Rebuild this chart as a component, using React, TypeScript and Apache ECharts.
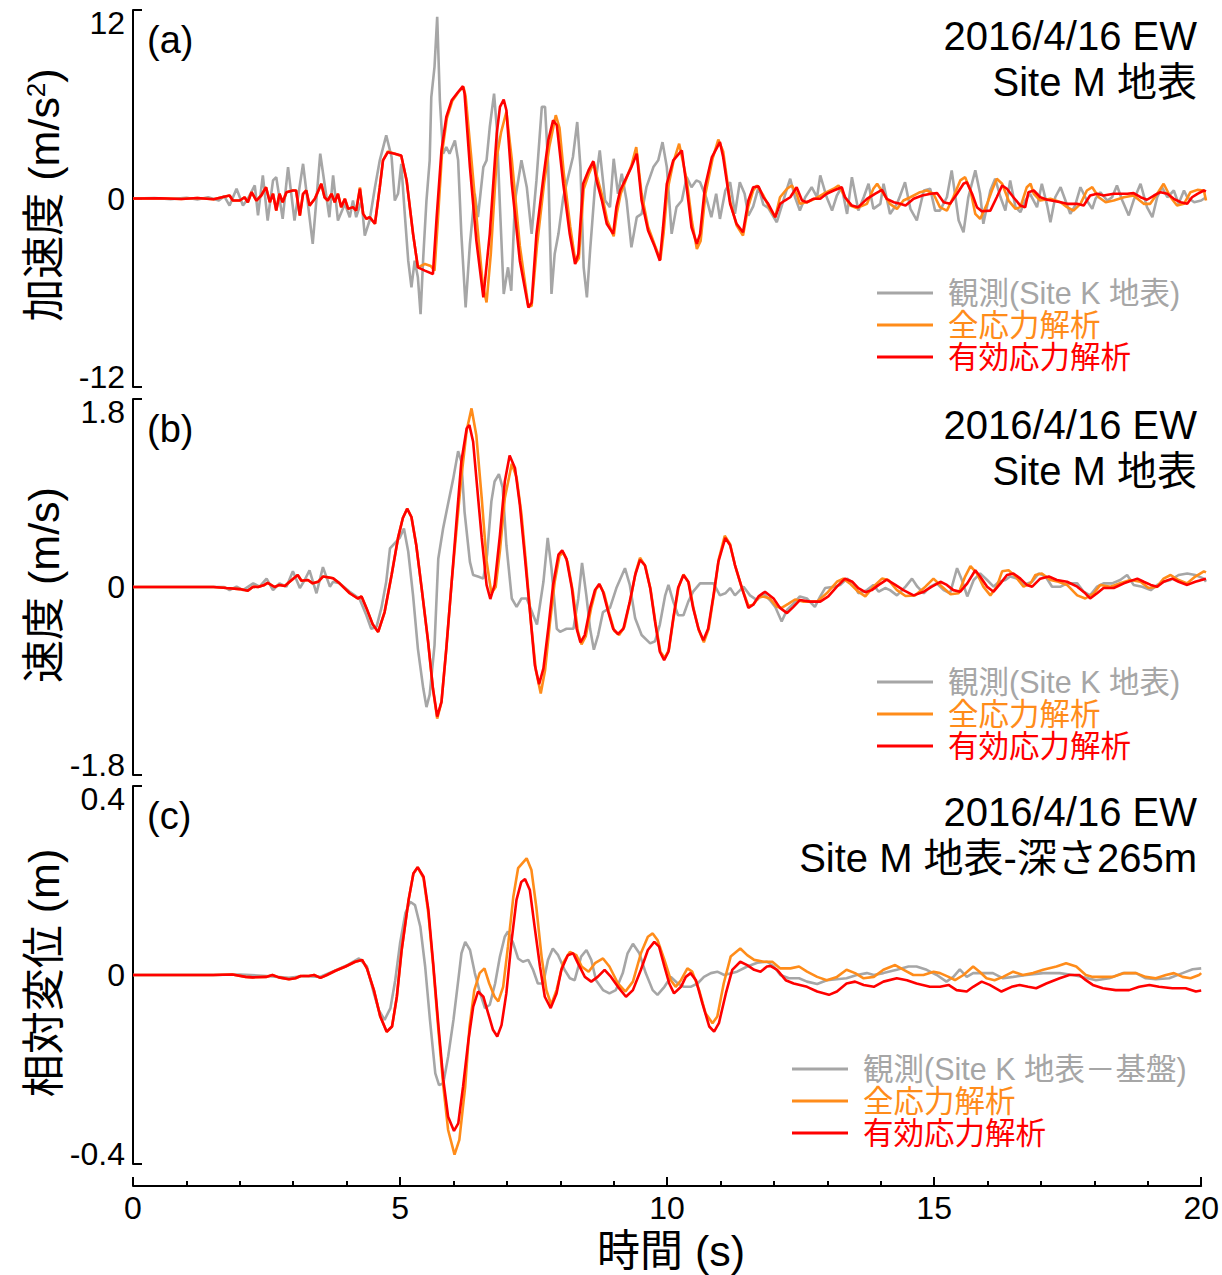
import React, { useEffect, useRef } from 'react';
import * as echarts from 'echarts';

// ---------------- data (time [s], value) ----------------
const ACC_OBS = [[0,0],[0.4,0.03],[0.7,-0.04],[1.0,0.05],[1.2,-0.06],[1.4,0.08],[1.6,-0.12],[1.7,0.15],[1.8,-0.45],[1.93,0.62],[2.05,-0.45],[2.14,-0.02],[2.27,0.83],[2.33,-1.08],[2.42,1.47],[2.51,-1.4],[2.61,1.15],[2.67,1.36],[2.79,-1.3],[2.89,2.0],[3.01,-1.4],[3.17,2.21],[3.35,-2.89],[3.49,2.85],[3.66,-1.19],[3.73,1.47],[3.82,-1.4],[3.95,-0.34],[4.04,-1.19],[4.1,-0.13],[4.16,-1.19],[4.26,-0.13],[4.32,-2.36],[4.41,-1.4],[4.51,0.72],[4.6,2.43],[4.72,4.02],[4.82,2.64],[4.88,-0.13],[4.94,0.3],[5.0,2.21],[5.07,-1.19],[5.13,-3.96],[5.19,-5.66],[5.25,-3.96],[5.31,-5.02],[5.36,-7.36],[5.41,-3.75],[5.47,-0.13],[5.53,2.43],[5.56,6.46],[5.62,8.38],[5.67,11.57],[5.72,6.25],[5.78,2.85],[5.84,3.27],[5.9,2.85],[6.0,3.7],[6.06,2.43],[6.12,-2.25],[6.2,-6.94],[6.28,-2.89],[6.37,0.3],[6.43,-1.19],[6.53,2.0],[6.59,2.43],[6.65,4.55],[6.73,6.68],[6.78,4.55],[6.84,-0.55],[6.91,-6.08],[6.99,-4.38],[7.05,-5.87],[7.12,-0.13],[7.18,1.15],[7.24,2.43],[7.34,0.72],[7.43,-2.25],[7.52,1.15],[7.62,5.83],[7.68,5.83],[7.74,2.0],[7.8,-6.08],[7.86,-3.53],[7.93,-2.25],[8.02,0.08],[8.11,1.36],[8.2,2.64],[8.28,4.87],[8.34,2.0],[8.4,-4.38],[8.46,-6.3],[8.52,-3.32],[8.61,0.72],[8.7,3.06],[8.8,-0.13],[8.89,-0.55],[8.96,2.53],[9.04,0.3],[9.11,1.58],[9.2,-0.13],[9.29,-3.11],[9.39,-1.19],[9.48,-0.98],[9.57,0.72],[9.7,2.0],[9.79,2.43],[9.87,3.59],[9.95,2.0],[10.04,-2.25],[10.13,-0.55],[10.23,-0.13],[10.32,1.36],[10.41,0.72],[10.5,1.15],[10.57,1.04],[10.69,0.0],[10.78,-1.19],[10.87,0.3],[10.94,-1.3],[11.04,0.5],[11.13,1.04],[11.22,-0.98],[11.31,1.04],[11.4,0.3],[11.47,-1.1],[11.56,-0.5],[11.66,0.72],[11.75,-0.4],[11.84,-0.6],[12.0,-1.51],[12.15,0.19],[12.25,1.26],[12.34,0.08],[12.43,-0.77],[12.53,0.08],[12.65,0.72],[12.75,0.08],[12.81,1.47],[12.93,0.08],[13.03,-0.77],[13.12,0.19],[13.21,0.72],[13.31,-0.98],[13.4,1.36],[13.52,-0.77],[13.62,0.08],[13.71,0.94],[13.8,-0.66],[13.93,-0.34],[13.99,0.94],[14.11,-0.98],[14.24,-0.34],[14.3,0.19],[14.39,1.04],[14.49,-0.66],[14.61,-1.4],[14.74,0.51],[14.86,0.62],[14.95,-0.77],[15.04,-0.77],[15.17,0.08],[15.26,1.79],[15.39,-1.4],[15.48,-2.15],[15.57,0.08],[15.7,1.79],[15.79,0.3],[15.85,-1.61],[15.98,0.51],[16.07,1.26],[16.17,0.08],[16.26,-0.77],[16.35,1.15],[16.45,-0.55],[16.54,-0.87],[16.63,-0.13],[16.72,0.3],[16.85,-0.55],[16.94,0.94],[17.04,-0.45],[17.1,-1.51],[17.19,0.08],[17.29,0.72],[17.38,-0.13],[17.47,-0.98],[17.56,-0.45],[17.66,0.72],[17.78,-0.13],[17.88,-0.66],[17.94,-0.02],[18.03,0.4],[18.16,-0.13],[18.25,0.08],[18.34,0.83],[18.44,-0.13],[18.56,-1.08],[18.65,-0.13],[18.78,0.94],[18.9,-0.55],[19.0,-1.19],[19.09,0.08],[19.18,0.72],[19.28,0.08],[19.4,0.51],[19.49,-0.34],[19.59,0.51],[19.65,0.08],[19.78,-0.24],[19.91,-0.13],[20,0.08]];

const ACC_TOT = [[0,0],[0.5,0.02],[0.9,-0.03],[1.2,0.03],[1.5,-0.05],[1.8,0.19],[1.86,-0.13],[1.99,-0.13],[2.08,0.08],[2.14,-0.24],[2.21,0.4],[2.3,-0.13],[2.39,0.19],[2.48,0.72],[2.55,-0.24],[2.61,0.3],[2.67,-0.77],[2.73,0.3],[2.79,-0.24],[2.86,0.4],[2.98,0.51],[3.04,0.51],[3.11,-1.08],[3.17,0.3],[3.23,0.51],[3.29,-0.45],[3.39,-0.02],[3.51,0.94],[3.57,0.08],[3.63,-0.13],[3.7,0.3],[3.76,-0.24],[3.82,0.3],[3.88,-0.55],[3.95,-0.02],[4.01,-0.66],[4.1,-0.55],[4.16,-0.77],[4.23,0.7],[4.29,-0.98],[4.35,-1.3],[4.41,-1.19],[4.51,-1.61],[4.6,0.72],[4.66,2.43],[4.75,3.0],[4.88,2.85],[5.0,2.7],[5.1,1.15],[5.22,-2.25],[5.31,-4.38],[5.44,-4.17],[5.55,-4.3],[5.62,-4.6],[5.68,-1.5],[5.76,2.9],[5.85,5.1],[5.95,6.2],[6.07,6.8],[6.16,7.1],[6.2,6.5],[6.3,2.8],[6.42,-1.8],[6.52,-5.5],[6.59,-6.62],[6.67,-3.5],[6.78,2.6],[6.86,4.2],[6.96,5.51],[7.06,2.5],[7.21,-3.0],[7.37,-6.9],[7.43,-6.83],[7.53,-3.0],[7.66,0.9],[7.76,3.3],[7.88,5.3],[7.95,4.5],[8.03,1.6],[8.15,-1.8],[8.25,-4.1],[8.31,-3.8],[8.4,0.6],[8.5,1.6],[8.59,2.3],[8.65,1.4],[8.75,0.1],[8.84,-1.4],[8.96,-2.4],[9.02,-0.9],[9.09,0.3],[9.2,1.3],[9.29,2.1],[9.38,3.27],[9.48,0.3],[9.6,-1.8],[9.73,-3.0],[9.83,-3.9],[9.89,-2.2],[9.96,0.5],[10.07,2.3],[10.18,3.49],[10.32,1.2],[10.42,-1.5],[10.51,-3.21],[10.58,-2.7],[10.67,0.3],[10.8,2.5],[10.91,3.75],[11.0,3.0],[11.13,-0.2],[11.25,-1.7],[11.37,-2.36],[11.47,-0.5],[11.56,0.51],[11.63,0.83],[11.75,0.19],[11.87,-0.66],[11.97,-1.19],[12.06,0.08],[12.19,0.62],[12.28,0.83],[12.37,0.3],[12.43,-0.34],[12.56,-0.24],[12.71,-0.02],[12.87,0.3],[13.06,0.62],[13.15,0.83],[13.24,0.3],[13.37,-0.45],[13.49,-0.6],[13.68,-0.34],[13.8,0.62],[13.87,0.94],[13.99,0.3],[14.11,-0.34],[14.24,-0.66],[14.36,-0.13],[14.49,0.08],[14.67,0.4],[14.8,0.51],[14.92,0.3],[15.04,-0.55],[15.17,-0.77],[15.29,0.08],[15.42,1.15],[15.51,1.36],[15.61,0.51],[15.7,-0.98],[15.79,-1.3],[15.92,-0.34],[16.01,0.51],[16.1,1.26],[16.2,0.94],[16.32,-0.13],[16.45,-0.66],[16.54,-0.55],[16.66,0.72],[16.73,0.94],[16.79,0.3],[16.91,-0.13],[17.1,-0.02],[17.29,-0.24],[17.41,-0.55],[17.53,-0.77],[17.66,-0.34],[17.78,0.51],[17.88,0.72],[18.0,0.08],[18.13,-0.24],[18.28,-0.13],[18.47,0.08],[18.65,0.19],[18.84,-0.34],[18.96,-0.34],[19.09,0.3],[19.21,0.94],[19.34,0.08],[19.46,-0.45],[19.59,-0.34],[19.71,0.4],[19.84,0.55],[19.96,0.51],[20,-0.13]];

const ACC_EFF = [[0,0],[0.5,0.02],[0.9,-0.03],[1.2,0.03],[1.5,-0.05],[1.8,0.19],[1.86,-0.13],[1.99,-0.13],[2.08,0.08],[2.14,-0.24],[2.21,0.4],[2.3,-0.13],[2.39,0.19],[2.48,0.72],[2.55,-0.24],[2.61,0.3],[2.67,-0.77],[2.73,0.3],[2.79,-0.24],[2.86,0.4],[2.98,0.51],[3.04,0.51],[3.11,-1.08],[3.17,0.3],[3.23,0.51],[3.29,-0.45],[3.39,-0.02],[3.51,0.94],[3.57,0.08],[3.63,-0.13],[3.7,0.3],[3.76,-0.24],[3.82,0.3],[3.88,-0.55],[3.95,-0.02],[4.01,-0.66],[4.1,-0.55],[4.16,-0.77],[4.23,0.62],[4.29,-0.98],[4.35,-1.3],[4.41,-1.19],[4.51,-1.61],[4.6,0.72],[4.66,2.43],[4.75,2.95],[4.88,2.85],[5.0,2.74],[5.1,1.15],[5.22,-2.25],[5.31,-4.38],[5.44,-4.59],[5.59,-4.81],[5.66,-1.19],[5.75,3.06],[5.84,5.19],[5.94,6.25],[6.06,6.78],[6.15,7.15],[6.18,6.68],[6.28,2.0],[6.4,-2.68],[6.53,-6.3],[6.65,-2.25],[6.78,4.13],[6.84,5.83],[6.91,6.3],[6.96,5.62],[7.06,0.94],[7.21,-3.96],[7.37,-6.94],[7.43,-6.62],[7.52,-2.25],[7.65,1.36],[7.74,3.7],[7.83,4.98],[7.9,4.66],[8.02,0.94],[8.14,-2.25],[8.24,-4.17],[8.3,-3.53],[8.39,0.94],[8.49,1.79],[8.58,2.38],[8.64,1.15],[8.74,-0.13],[8.83,-1.61],[8.95,-2.25],[9.01,-0.55],[9.08,0.51],[9.2,1.36],[9.29,2.0],[9.39,2.85],[9.48,-0.13],[9.6,-2.04],[9.73,-3.11],[9.82,-3.96],[9.88,-1.83],[9.95,0.94],[10.07,2.43],[10.23,3.06],[10.32,0.72],[10.41,-1.83],[10.51,-2.89],[10.57,-2.25],[10.66,0.72],[10.79,2.64],[10.94,3.59],[11.0,2.64],[11.13,-0.34],[11.25,-1.61],[11.37,-2.15],[11.47,-0.13],[11.56,0.72],[11.66,0.77],[11.75,0.08],[11.84,-0.34],[11.97,-1.19],[12.06,-0.34],[12.15,-0.13],[12.25,0.08],[12.37,0.72],[12.47,-0.13],[12.56,-0.24],[12.68,-0.02],[12.81,-0.02],[12.93,0.3],[13.06,0.51],[13.21,0.72],[13.27,0.08],[13.4,-0.45],[13.52,-0.55],[13.68,-0.02],[13.83,0.3],[13.96,0.55],[14.05,-0.02],[14.18,-0.24],[14.3,-0.34],[14.4,-0.45],[14.55,-0.02],[14.71,0.19],[14.87,0.3],[14.99,0.34],[15.11,-0.24],[15.23,-0.34],[15.36,0.3],[15.48,0.94],[15.54,1.04],[15.64,0.3],[15.73,-0.55],[15.82,-0.81],[15.98,-0.77],[16.1,0.08],[16.2,0.83],[16.29,0.62],[16.41,0.08],[16.54,-0.45],[16.63,-0.55],[16.69,0.4],[16.79,0.51],[16.91,0.08],[17.04,-0.08],[17.29,-0.24],[17.41,-0.34],[17.6,-0.34],[17.72,-0.45],[17.84,0.19],[17.97,0.3],[18.09,0.19],[18.28,0.3],[18.53,0.3],[18.65,0.34],[18.78,0.08],[18.9,-0.08],[19.03,0.19],[19.15,0.4],[19.28,0.3],[19.4,-0.02],[19.53,-0.24],[19.65,-0.34],[19.74,0.08],[19.84,0.3],[19.96,0.51],[20,0.45]];

const VEL_OBS = [[0,0],[1.7,0],[1.8,-0.03],[1.93,0.003],[2.05,-0.03],[2.24,0.035],[2.36,0.003],[2.49,0.08],[2.61,-0.03],[2.73,0.035],[2.86,0.003],[2.98,0.15],[3.11,-0.01],[3.2,0.067],[3.29,0.16],[3.42,-0.06],[3.54,0.19],[3.67,0.003],[3.73,0.05],[3.85,0.035],[4.04,-0.045],[4.22,-0.11],[4.35,-0.27],[4.44,-0.4],[4.54,-0.38],[4.63,-0.2],[4.72,0.05],[4.79,0.37],[4.88,0.42],[4.97,0.47],[5.05,0.56],[5.13,0.34],[5.22,-0.08],[5.31,-0.59],[5.41,-0.97],[5.47,-1.15],[5.53,-1.03],[5.62,-0.56],[5.69,0.27],[5.78,0.56],[5.87,0.79],[5.97,1.04],[6.06,1.3],[6.12,1.2],[6.18,0.72],[6.28,0.24],[6.34,0.115],[6.43,0.1],[6.53,0.08],[6.6,0.31],[6.68,0.82],[6.74,1.01],[6.82,1.08],[6.89,0.95],[6.96,0.4],[7.06,-0.11],[7.15,-0.19],[7.24,-0.11],[7.34,-0.11],[7.46,-0.27],[7.53,-0.36],[7.65,0.05],[7.73,0.47],[7.8,0.18],[7.9,-0.4],[7.96,-0.43],[8.08,-0.4],[8.21,-0.4],[8.3,-0.11],[8.37,0.23],[8.45,-0.08],[8.52,-0.4],[8.59,-0.6],[8.67,-0.46],[8.76,-0.24],[8.89,-0.2],[9.01,-0.01],[9.17,0.18],[9.26,0.02],[9.36,-0.3],[9.48,-0.46],[9.64,-0.54],[9.73,-0.52],[9.82,-0.36],[9.92,-0.08],[9.98,0.02],[10.07,-0.14],[10.16,-0.27],[10.26,-0.27],[10.35,-0.14],[10.44,-0.045],[10.57,0.035],[10.82,0.035],[10.94,-0.08],[11.04,-0.06],[11.13,-0.01],[11.22,-0.08],[11.38,0.003],[11.5,-0.08],[11.63,-0.125],[11.75,-0.06],[11.87,-0.125],[11.97,-0.19],[12.09,-0.33],[12.19,-0.22],[12.31,-0.16],[12.43,-0.09],[12.56,-0.11],[12.71,-0.19],[12.81,-0.09],[12.9,-0.01],[13.06,0.003],[13.18,0.02],[13.31,0.08],[13.43,0.035],[13.52,-0.06],[13.68,-0.03],[13.8,0.02],[13.9,-0.045],[14.02,-0.01],[14.11,-0.03],[14.24,-0.08],[14.4,0.003],[14.52,0.08],[14.62,0.003],[14.74,-0.06],[14.86,0.003],[14.98,0.035],[15.11,-0.03],[15.23,-0.06],[15.36,0.18],[15.45,0.067],[15.55,-0.09],[15.67,0.067],[15.79,0.13],[15.92,0.067],[16.04,0.003],[16.14,0.05],[16.26,0.067],[16.35,0.1],[16.49,0.08],[16.6,0.02],[16.76,0.05],[16.88,0.13],[17.01,0.1],[17.13,0.003],[17.29,0.003],[17.41,0.035],[17.6,0.035],[17.72,-0.045],[17.84,-0.08],[17.97,0.003],[18.09,0.035],[18.25,0.035],[18.4,0.067],[18.53,0.115],[18.65,0.02],[18.81,0.003],[18.97,-0.03],[19.09,0.02],[19.21,0.05],[19.34,0.067],[19.49,0.115],[19.65,0.13],[19.8,0.115],[19.96,0.08],[20,0.05]];

const VEL_TOT = [[0,0],[1.5,0],[1.74,-0.01],[1.99,-0.02],[2.14,-0.035],[2.24,0.003],[2.33,0.0],[2.45,0.02],[2.51,0.04],[2.64,0.0],[2.73,0.02],[2.83,0.01],[2.92,0.05],[3.07,0.115],[3.14,0.06],[3.26,0.067],[3.35,0.035],[3.45,0.05],[3.54,0.1],[3.63,0.093],[3.73,0.083],[3.85,0.035],[4.04,-0.06],[4.19,-0.11],[4.26,-0.09],[4.35,-0.2],[4.47,-0.36],[4.57,-0.43],[4.69,-0.24],[4.82,0.115],[4.94,0.47],[5.03,0.66],[5.11,0.75],[5.19,0.67],[5.28,0.4],[5.38,-0.01],[5.5,-0.52],[5.59,-0.97],[5.67,-1.26],[5.75,-1.1],[5.84,-0.59],[5.94,0.05],[6.03,0.55],[6.12,1.05],[6.22,1.5],[6.31,1.71],[6.4,1.45],[6.5,0.85],[6.59,0.25],[6.68,-0.06],[6.76,0.0],[6.84,0.35],[6.93,0.85],[7.06,1.18],[7.15,1.05],[7.24,0.7],[7.33,0.2],[7.42,-0.35],[7.51,-0.8],[7.6,-1.02],[7.68,-0.8],[7.77,-0.35],[7.86,0.05],[7.95,0.3],[8.02,0.33],[8.1,0.24],[8.2,-0.05],[8.29,-0.42],[8.36,-0.55],[8.44,-0.47],[8.54,-0.2],[8.63,-0.02],[8.7,0.02],[8.78,-0.06],[8.88,-0.26],[8.97,-0.42],[9.06,-0.46],[9.16,-0.38],[9.28,-0.1],[9.37,0.14],[9.45,0.28],[9.55,0.2],[9.65,-0.03],[9.74,-0.35],[9.83,-0.62],[9.91,-0.68],[9.99,-0.6],[10.08,-0.28],[10.17,0.0],[10.26,0.12],[10.36,0.04],[10.45,-0.21],[10.55,-0.42],[10.64,-0.53],[10.73,-0.4],[10.83,-0.06],[10.92,0.27],[11.03,0.49],[11.13,0.41],[11.22,0.21],[11.35,-0.01],[11.47,-0.18],[11.56,-0.17],[11.66,-0.1],[11.75,-0.09],[11.87,-0.11],[12.0,-0.19],[12.09,-0.2],[12.22,-0.16],[12.34,-0.12],[12.5,-0.14],[12.75,-0.14],[12.93,-0.06],[13.12,0.05],[13.24,0.08],[13.36,0.035],[13.52,-0.045],[13.65,-0.09],[13.8,0.003],[13.96,0.08],[14.08,0.067],[14.24,-0.03],[14.4,-0.086],[14.58,-0.08],[14.77,0.003],[14.92,0.08],[15.08,0.003],[15.24,-0.07],[15.39,-0.06],[15.51,0.1],[15.61,0.2],[15.73,0.13],[15.85,0.003],[15.98,-0.08],[16.1,0.003],[16.2,0.15],[16.32,0.16],[16.45,0.1],[16.6,0.003],[16.73,0.035],[16.82,0.115],[16.94,0.13],[17.1,0.067],[17.25,0.05],[17.41,0.02],[17.6,-0.08],[17.75,-0.11],[17.91,-0.06],[18.03,0.02],[18.22,0.003],[18.4,0.035],[18.59,0.067],[18.78,0.05],[18.93,-0.01],[19.09,0.003],[19.21,0.08],[19.34,0.115],[19.49,0.067],[19.65,0.035],[19.8,0.1],[19.96,0.15],[20,0.14]];

const VEL_EFF = [[0,0],[1.5,0],[1.74,-0.01],[1.99,-0.02],[2.14,-0.035],[2.24,0.003],[2.33,0.0],[2.45,0.02],[2.51,0.04],[2.64,0.0],[2.73,0.02],[2.83,0.01],[2.92,0.05],[3.07,0.115],[3.14,0.06],[3.26,0.067],[3.35,0.035],[3.45,0.05],[3.54,0.1],[3.63,0.093],[3.73,0.083],[3.85,0.035],[4.04,-0.06],[4.19,-0.11],[4.26,-0.09],[4.35,-0.2],[4.47,-0.36],[4.57,-0.43],[4.69,-0.24],[4.82,0.115],[4.94,0.47],[5.03,0.66],[5.11,0.75],[5.19,0.67],[5.28,0.4],[5.38,-0.01],[5.5,-0.52],[5.59,-0.97],[5.67,-1.24],[5.75,-1.1],[5.84,-0.59],[5.94,0.05],[6.03,0.63],[6.12,1.2],[6.22,1.52],[6.27,1.55],[6.34,1.39],[6.4,1.04],[6.5,0.47],[6.59,0.02],[6.66,-0.115],[6.74,0.02],[6.84,0.5],[6.93,1.01],[7.02,1.26],[7.12,1.14],[7.21,0.79],[7.3,0.31],[7.4,-0.24],[7.49,-0.75],[7.57,-0.93],[7.65,-0.78],[7.74,-0.4],[7.83,0.02],[7.93,0.31],[8.0,0.35],[8.08,0.27],[8.18,-0.01],[8.27,-0.4],[8.34,-0.53],[8.42,-0.46],[8.52,-0.2],[8.61,-0.03],[8.69,0.03],[8.76,-0.045],[8.86,-0.24],[8.95,-0.4],[9.04,-0.45],[9.14,-0.4],[9.26,-0.14],[9.36,0.115],[9.45,0.26],[9.54,0.21],[9.64,-0.01],[9.73,-0.33],[9.82,-0.62],[9.9,-0.7],[9.98,-0.62],[10.07,-0.3],[10.16,-0.01],[10.26,0.115],[10.35,0.05],[10.44,-0.2],[10.54,-0.4],[10.63,-0.51],[10.72,-0.4],[10.82,-0.08],[10.91,0.24],[11.04,0.47],[11.13,0.4],[11.22,0.21],[11.35,-0.01],[11.47,-0.2],[11.56,-0.17],[11.66,-0.09],[11.78,-0.045],[11.94,-0.11],[12.06,-0.2],[12.19,-0.25],[12.31,-0.19],[12.43,-0.125],[12.62,-0.14],[12.81,-0.14],[12.96,-0.09],[13.12,0.003],[13.27,0.08],[13.41,0.05],[13.52,-0.01],[13.65,-0.05],[13.77,-0.03],[13.9,0.02],[14.05,0.07],[14.21,0.02],[14.36,-0.03],[14.55,-0.08],[14.74,-0.045],[14.89,0.003],[15.05,0.05],[15.17,0.02],[15.29,-0.03],[15.42,-0.045],[15.55,0.035],[15.7,0.16],[15.79,0.1],[15.92,0.003],[16.04,-0.045],[16.17,0.035],[16.29,0.115],[16.41,0.13],[16.54,0.08],[16.66,0.02],[16.76,0.003],[16.91,0.08],[17.07,0.1],[17.22,0.067],[17.41,0.05],[17.6,0.003],[17.75,-0.06],[17.84,-0.11],[17.97,-0.06],[18.09,-0.01],[18.28,-0.01],[18.47,0.035],[18.72,0.08],[18.84,0.05],[18.97,0.02],[19.09,0.003],[19.21,0.05],[19.37,0.08],[19.49,0.05],[19.65,0.02],[19.8,0.05],[20,0.08]];

const DISP_OBS = [[0,0],[1.5,0],[2.0,0.001],[2.5,-0.002],[2.92,-0.006],[3.2,-0.002],[3.5,-0.004],[3.8,0.01],[4.0,0.02],[4.23,0.035],[4.38,0.018],[4.51,-0.039],[4.6,-0.074],[4.71,-0.095],[4.82,-0.07],[4.91,-0.011],[5.0,0.067],[5.1,0.131],[5.19,0.155],[5.28,0.148],[5.38,0.102],[5.47,0.018],[5.56,-0.095],[5.66,-0.208],[5.73,-0.233],[5.81,-0.229],[5.9,-0.173],[6.0,-0.095],[6.09,-0.011],[6.15,0.046],[6.22,0.07],[6.31,0.053],[6.4,0.004],[6.5,-0.039],[6.59,-0.07],[6.68,-0.063],[6.78,-0.018],[6.87,0.039],[6.96,0.081],[7.02,0.092],[7.12,0.067],[7.21,0.035],[7.3,0.028],[7.4,0.032],[7.49,0.011],[7.58,-0.018],[7.68,-0.018],[7.77,0.032],[7.86,0.056],[7.96,0.042],[8.08,0.011],[8.18,-0.007],[8.27,-0.011],[8.39,0.039],[8.49,0.053],[8.58,0.032],[8.67,-0.011],[8.8,-0.032],[8.92,-0.039],[9.04,-0.032],[9.17,0.004],[9.26,0.046],[9.36,0.066],[9.48,0.046],[9.6,0.004],[9.73,-0.032],[9.82,-0.042],[9.95,-0.025],[10.07,-0.004],[10.2,-0.018],[10.32,-0.025],[10.44,-0.025],[10.57,-0.018],[10.69,-0.004],[10.82,0.004],[10.94,0.007],[11.07,0],[11.31,0.007],[11.5,0.018],[11.69,0.026],[11.87,0.028],[12.0,0.018],[12.12,0],[12.28,-0.007],[12.47,-0.007],[12.62,-0.014],[12.81,-0.019],[12.99,-0.011],[13.36,-0.007],[13.55,0],[13.74,0.004],[13.87,0],[14.05,0.004],[14.3,0.011],[14.52,0.018],[14.67,0.018],[14.86,0.011],[15.05,0],[15.23,-0.014],[15.36,-0.004],[15.48,0.012],[15.61,-0.004],[15.73,0.004],[16.1,0.004],[16.29,-0.007],[16.48,-0.004],[16.73,0],[17.04,0.004],[17.35,0.004],[17.6,0],[17.78,-0.004],[18.03,-0.011],[18.28,-0.007],[18.53,0.004],[18.78,0.004],[18.96,-0.007],[19.15,-0.009],[19.4,-0.007],[19.65,0.004],[19.84,0.012],[20,0.014]];

const DISP_TOT = [[0,0],[1.5,0],[1.86,0.001],[2.11,-0.004],[2.24,-0.005],[2.49,-0.004],[2.61,0],[2.73,-0.005],[2.92,-0.009],[3.04,-0.007],[3.14,-0.002],[3.29,-0.002],[3.39,0],[3.51,-0.006],[3.63,0],[3.79,0.009],[3.98,0.018],[4.16,0.028],[4.29,0.032],[4.38,0.014],[4.51,-0.032],[4.63,-0.088],[4.75,-0.12],[4.85,-0.109],[4.94,-0.046],[5.03,0.053],[5.16,0.159],[5.25,0.215],[5.33,0.228],[5.44,0.205],[5.53,0.13],[5.62,0.02],[5.72,-0.12],[5.81,-0.235],[5.9,-0.328],[6.02,-0.38],[6.11,-0.349],[6.22,-0.236],[6.3,-0.11],[6.39,-0.032],[6.49,0.004],[6.58,0.014],[6.67,-0.018],[6.77,-0.046],[6.84,-0.056],[6.93,-0.025],[7.02,0.06],[7.12,0.165],[7.21,0.226],[7.37,0.247],[7.46,0.222],[7.55,0.145],[7.65,0.039],[7.74,-0.032],[7.83,-0.063],[7.93,-0.032],[8.05,0.025],[8.18,0.049],[8.3,0.042],[8.4,0.018],[8.53,0.007],[8.65,0.025],[8.8,0.035],[8.92,0.018],[9.08,-0.018],[9.22,-0.035],[9.36,-0.014],[9.51,0.046],[9.64,0.081],[9.73,0.088],[9.82,0.074],[9.95,0.032],[10.07,-0.011],[10.16,-0.025],[10.26,-0.011],[10.38,0.014],[10.47,0.007],[10.6,-0.032],[10.72,-0.081],[10.85,-0.102],[10.94,-0.088],[11.06,-0.018],[11.19,0.039],[11.37,0.056],[11.5,0.042],[11.63,0.032],[11.81,0.028],[11.97,0.028],[12.12,0.014],[12.31,0.014],[12.47,0.018],[12.62,0.007],[12.81,-0.004],[12.99,-0.011],[13.18,-0.004],[13.36,0.011],[13.52,0.004],[13.68,-0.007],[13.87,-0.004],[14.05,0.011],[14.27,0.021],[14.43,0.011],[14.61,0],[14.8,0],[14.99,0.007],[15.11,0.004],[15.27,-0.004],[15.39,-0.011],[15.55,0],[15.73,0.018],[15.85,0.007],[15.98,-0.007],[16.13,-0.011],[16.29,-0.004],[16.48,0.007],[16.66,0],[16.85,0.004],[17.04,0.011],[17.29,0.018],[17.47,0.025],[17.66,0.018],[17.84,0],[17.97,-0.004],[18.16,-0.004],[18.34,-0.004],[18.56,0.004],[18.78,0.004],[18.96,-0.004],[19.15,-0.007],[19.34,0],[19.49,0.004],[19.65,-0.004],[19.8,-0.007],[19.96,0],[20,0.004]];

const DISP_EFF = [[0,0],[1.5,0],[1.86,0.001],[2.11,-0.004],[2.24,-0.005],[2.49,-0.004],[2.61,0],[2.73,-0.005],[2.92,-0.009],[3.04,-0.007],[3.14,-0.002],[3.29,-0.002],[3.39,0],[3.51,-0.006],[3.63,0],[3.79,0.009],[3.98,0.018],[4.16,0.028],[4.29,0.032],[4.38,0.014],[4.51,-0.032],[4.63,-0.088],[4.75,-0.12],[4.85,-0.109],[4.94,-0.046],[5.03,0.053],[5.16,0.159],[5.25,0.215],[5.33,0.228],[5.44,0.208],[5.53,0.138],[5.62,0.025],[5.72,-0.109],[5.81,-0.222],[5.9,-0.3],[6.01,-0.33],[6.09,-0.314],[6.18,-0.236],[6.28,-0.138],[6.37,-0.067],[6.46,-0.035],[6.56,-0.046],[6.65,-0.081],[6.74,-0.116],[6.82,-0.13],[6.9,-0.106],[6.99,-0.039],[7.09,0.074],[7.18,0.159],[7.27,0.197],[7.34,0.203],[7.43,0.18],[7.52,0.102],[7.62,0.018],[7.71,-0.046],[7.82,-0.07],[7.93,-0.039],[8.02,0.011],[8.14,0.042],[8.24,0.046],[8.33,0.025],[8.46,-0.004],[8.58,-0.014],[8.7,-0.004],[8.83,0.011],[8.95,-0.004],[9.08,-0.025],[9.23,-0.046],[9.36,-0.032],[9.51,0.011],[9.64,0.053],[9.76,0.07],[9.85,0.06],[9.95,0.018],[10.04,-0.018],[10.13,-0.039],[10.26,-0.025],[10.35,-0.004],[10.44,0.004],[10.54,-0.011],[10.66,-0.06],[10.79,-0.109],[10.88,-0.12],[10.97,-0.102],[11.1,-0.039],[11.22,0.011],[11.37,0.028],[11.5,0.021],[11.63,0.011],[11.75,0.007],[11.87,0.018],[11.94,0.019],[12.06,0.011],[12.22,-0.011],[12.37,-0.018],[12.62,-0.025],[12.81,-0.035],[13.03,-0.042],[13.18,-0.035],[13.36,-0.018],[13.52,-0.014],[13.68,-0.021],[13.87,-0.025],[14.05,-0.014],[14.3,-0.007],[14.49,-0.011],[14.67,-0.018],[14.92,-0.025],[15.11,-0.025],[15.27,-0.021],[15.42,-0.032],[15.61,-0.035],[15.73,-0.025],[15.89,-0.014],[16.04,-0.021],[16.26,-0.035],[16.45,-0.025],[16.6,-0.021],[16.76,-0.025],[16.91,-0.028],[17.1,-0.018],[17.35,-0.007],[17.53,0],[17.72,0],[17.84,-0.011],[17.97,-0.021],[18.16,-0.028],[18.4,-0.032],[18.65,-0.032],[18.84,-0.025],[19.03,-0.021],[19.21,-0.025],[19.46,-0.028],[19.71,-0.028],[19.9,-0.035],[20,-0.033]];

// ---------------- labels / ticks ----------------
const X_TICKS = [0, 5, 10, 15, 20];
const Y_RANGES = [12, 1.8, 0.4];
const PANEL_LABELS = ['(a)', '(b)', '(c)'];
const TITLE_LINE1 = ['2016/4/16 EW', '2016/4/16 EW', '2016/4/16 EW'];
const TITLE_LINE2 = ['Site M 地表', 'Site M 地表', 'Site M 地表-深さ265m'];
const Y_NAMES = ['加速度 (m/s{sup|2})', '速度 (m/s)', '相対変位 (m)'];
const X_NAME = '時間 (s)';
const OBS_NAMES = ['観測(Site K 地表)', '観測(Site K 地表)', '観測(Site K 地表－基盤)'];
const TOT_NAME = '全応力解析';
const EFF_NAME = '有効応力解析';

// ---------------- styling ----------------
const FONT = "'Liberation Sans', Arial, 'Noto Sans CJK JP', sans-serif";
const GRAY = '#a6a6a6';
const ORANGE = '#ff8c1a';
const RED = '#ff0000';
const GRID_LEFT = 133;
const GRID_WIDTH = 1073;
const GRID_TOPS = [10, 399, 786];
const GRID_HEIGHTS = [377, 376, 378];
const LEGEND_LEFT = [877, 877, 792];
const LEGEND_ROW = 32;
const LEGEND_FONT = 30.5;
const NAME_Y = [195, 585, 973];

const DATA = [
  [ACC_OBS, ACC_TOT, ACC_EFF],
  [VEL_OBS, VEL_TOT, VEL_EFF],
  [DISP_OBS, DISP_TOT, DISP_EFF],
];

function buildOption() {
  const grid = GRID_TOPS.map((top, i) => ({ left: GRID_LEFT, width: GRID_WIDTH, top, height: GRID_HEIGHTS[i] }));
  const xAxis = GRID_TOPS.map((_, i) => ({
    type: 'value', gridIndex: i, min: X_TICKS[0], max: X_TICKS[X_TICKS.length - 1], interval: 5,
    show: i === 2, offset: 22,
    axisLine: { show: true, onZero: false, lineStyle: { color: '#000', width: 2 } },
    axisTick: { show: true, inside: true, length: 9, lineStyle: { color: '#000', width: 2 } },
    minorTick: { show: true, splitNumber: 5, length: 5, lineStyle: { color: '#000', width: 2 } },
    axisLabel: { fontSize: 32, color: '#000', fontFamily: FONT, margin: 6 },
    splitLine: { show: false }, minorSplitLine: { show: false },
  }));
  const yAxis = Y_RANGES.map((r, i) => ({
    type: 'value', gridIndex: i, min: -r, max: r, interval: r,
    axisLine: { show: true, onZero: false, lineStyle: { color: '#000', width: 2 } },
    axisTick: { show: true, inside: true, length: 9, lineStyle: { color: '#000', width: 2 } },
    splitLine: { show: false },
    axisLabel: {
      fontSize: 32, color: '#000', fontFamily: FONT, margin: 8, showMinLabel: true, showMaxLabel: true,
      formatter: (v: number) => {
        const s = String(Math.round(v * 1000) / 1000);
        if (v > 0) return '{hi|' + s + '}';
        if (v < 0) return '{lo|' + s + '}';
        return '{mid|' + s + '}';
      },
      rich: {
        hi: { fontSize: 32, fontFamily: FONT, color: '#000', padding: [26, 0, 0, 0] },
        lo: { fontSize: 32, fontFamily: FONT, color: '#000', padding: [0, 0, 20, 0] },
        mid: { fontSize: 32, fontFamily: FONT, color: '#000' },
      },
    },
  }));
  const series: any[] = [];
  DATA.forEach((d, i) => {
    const names = [OBS_NAMES[i], TOT_NAME, EFF_NAME];
    const colors = [GRAY, ORANGE, RED];
    d.forEach((arr, k) => {
      series.push({
        type: 'line', name: names[k], xAxisIndex: i, yAxisIndex: i, data: arr,
        showSymbol: false, symbol: 'none', color: colors[k],
        lineStyle: { color: colors[k], width: 2.6 }, z: 2 + k,
      });
    });
  });
  const legend = GRID_TOPS.map((top, i) => ({
    orient: 'vertical', left: LEGEND_LEFT[i], top: top + 283 - LEGEND_ROW / 2, padding: 0,
    itemWidth: 56, itemHeight: 3, itemGap: 0, icon: 'rect', selectedMode: false,
    textStyle: { fontSize: LEGEND_FONT, fontFamily: FONT, lineHeight: LEGEND_ROW, padding: [0, 0, 0, 10] },
    data: [
      { name: OBS_NAMES[i], textStyle: { color: GRAY } },
      { name: TOT_NAME, textStyle: { color: ORANGE } },
      { name: EFF_NAME, textStyle: { color: RED } },
    ],
  }));
  const graphic: any[] = [];
  GRID_TOPS.forEach((top, i) => {
    graphic.push({ type: 'text', x: 147, y: top + 30, style: { text: PANEL_LABELS[i], fontSize: 38, fontFamily: FONT, fill: '#000', align: 'left', verticalAlign: 'middle', textAlign: 'left', textVerticalAlign: 'middle' } });
    graphic.push({ type: 'text', x: 1197, y: top + 26, style: { text: TITLE_LINE1[i], fontSize: 40, fontFamily: FONT, fill: '#000', align: 'right', verticalAlign: 'middle', textAlign: 'right', textVerticalAlign: 'middle' } });
    graphic.push({ type: 'text', x: 1197, y: top + 72, style: { text: TITLE_LINE2[i], fontSize: 40, fontFamily: FONT, fill: '#000', align: 'right', verticalAlign: 'middle', textAlign: 'right', textVerticalAlign: 'middle' } });
    graphic.push({
      type: 'text', x: 44, y: NAME_Y[i], rotation: Math.PI / 2,
      style: {
        text: Y_NAMES[i], fontSize: 43, fontFamily: FONT, fill: '#000',
        align: 'center', verticalAlign: 'middle', textAlign: 'center', textVerticalAlign: 'middle',
        rich: { sup: { fontSize: 26, fontFamily: FONT, fill: '#000', verticalAlign: 'top' } },
      },
    });
  });
  graphic.push({ type: 'text', x: 671, y: 1251, style: { text: X_NAME, fontSize: 43, fontFamily: FONT, fill: '#000', align: 'center', verticalAlign: 'middle', textAlign: 'center', textVerticalAlign: 'middle' } });

  return { animation: false, backgroundColor: '#fff', grid, xAxis, yAxis, series, legend, graphic };
}

export default function App() {
  const ref = useRef<HTMLDivElement>(null);
  useEffect(() => {
    const chart = echarts.init(ref.current as HTMLDivElement, null, { renderer: 'svg' });
    chart.setOption(buildOption() as any);
    return () => chart.dispose();
  }, []);
  return <div ref={ref} style={{ position: 'absolute', left: 0, top: 0, width: 1222, height: 1275 }} />;
}
